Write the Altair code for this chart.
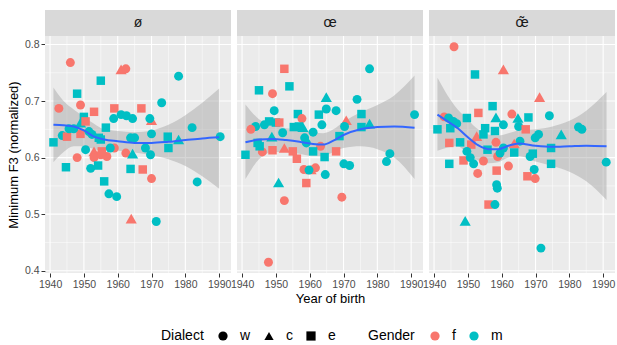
import altair as alt
import pandas as pd

vowels = ["ø", "œ", "œ\u0303"]

# ---- panel 1 (ø) points ----
p1_year = [1946.0, 1961.0, 1962.4, 1955.0, 1978.0, 1948.0, 1942.6, 1949.0, 1953.0, 1959.0,
           1967.0, 1973.0, 1950.0, 1958.8, 1961.0, 1962.6, 1964.4, 1970.0, 1969.5, 1956.5,
           1982.0, 1943.6, 1941.0, 1945.0, 1949.0, 1954.4, 1970.0, 1974.8, 1978.0, 1990.3,
           1963.8, 1965.0, 1945.6, 1947.0, 1949.0, 1950.5, 1951.5, 1952.4, 1955.0, 1950.5,
           1948.0, 1953.0, 1953.0, 1955.0, 1956.8, 1955.3, 1959.0, 1962.4, 1964.4, 1968.2,
           1969.7, 1975.0, 1944.7, 1952.0, 1954.2, 1963.8, 1967.4, 1956.0, 1957.4, 1959.7,
           1964.0, 1971.4, 1970.0, 1983.5, 1957.8]
p1_f3 = [0.768, 0.756, 0.757, 0.736, 0.744, 0.713, 0.687, 0.693, 0.681, 0.687,
         0.687, 0.697, 0.672, 0.669, 0.676, 0.674, 0.669, 0.666, 0.669, 0.653,
         0.653, 0.639, 0.627, 0.637, 0.642, 0.635, 0.642, 0.637, 0.632, 0.637,
         0.635, 0.635, 0.651, 0.651, 0.662, 0.664, 0.646, 0.641, 0.632, 0.614,
         0.600, 0.611, 0.600, 0.605, 0.602, 0.611, 0.617, 0.608, 0.607, 0.617,
         0.605, 0.617, 0.583, 0.581, 0.586, 0.580, 0.579, 0.558, 0.536, 0.531,
         0.492, 0.487, 0.563, 0.557, 0.617]
p1_dialect = ["w", "c", "w", "e", "w", "e", "w", "w", "e", "e",
              "e", "w", "e", "w", "w", "w", "w", "c", "w", "e",
              "w", "w", "e", "e", "e", "e", "w", "e", "c", "w",
              "w", "w", "w", "w", "c", "e", "w", "w", "e", "w",
              "w", "c", "w", "w", "w", "e", "w", "w", "c", "w",
              "w", "e", "e", "w", "e", "e", "e", "e", "w", "w",
              "c", "w", "w", "w", "w"]
p1_gender = ["f", "f", "f", "m", "m", "m", "f", "f", "f", "f",
             "f", "m", "m", "m", "m", "m", "m", "f", "m", "m",
             "m", "m", "m", "f", "f", "m", "m", "m", "m", "m",
             "m", "m", "m", "m", "m", "f", "m", "m", "m", "m",
             "f", "f", "f", "f", "f", "f", "f", "f", "m", "m",
             "m", "m", "m", "m", "m", "m", "f", "m", "m", "m",
             "f", "m", "f", "m", "m"]

# ---- panel 2 (œ) points ----
p2_year = [1952.5, 1977.7, 1945.0, 1954.0, 1949.0, 1964.9, 1974.0, 1949.5, 1964.9, 1967.8,
           1956.5, 1962.7, 1975.3, 1991.0, 1957.7, 1970.8, 1977.7, 1944.0, 1946.6, 1948.0,
           1950.0, 1951.0, 1942.6, 1952.0, 1955.3, 1956.8, 1958.0, 1961.0, 1963.6, 1970.3,
           1975.3, 1948.8, 1944.6, 1958.5, 1959.0, 1968.8, 1963.2, 1941.0, 1946.0, 1949.0,
           1952.5, 1955.0, 1956.2, 1961.0, 1964.4, 1967.8, 1958.3, 1960.4, 1961.7, 1959.8,
           1964.6, 1959.0, 1950.8, 1952.5, 1969.5, 1947.8, 1970.1, 1971.8, 1982.7, 1983.7,
           1945.2]
p2_f3 = [0.757, 0.757, 0.719, 0.726, 0.713, 0.707, 0.703, 0.683, 0.686, 0.683,
         0.677, 0.676, 0.677, 0.676, 0.669, 0.666, 0.660, 0.655, 0.658, 0.664,
         0.662, 0.662, 0.650, 0.644, 0.654, 0.655, 0.654, 0.645, 0.658, 0.655,
         0.654, 0.637, 0.626, 0.635, 0.626, 0.638, 0.620, 0.605, 0.610, 0.613,
         0.617, 0.611, 0.598, 0.611, 0.601, 0.611, 0.579, 0.579, 0.582, 0.578,
         0.570, 0.555, 0.556, 0.524, 0.530, 0.415, 0.589, 0.586, 0.593, 0.607,
         0.620]
p2_dialect = ["e", "w", "e", "e", "w", "c", "w", "w", "w", "w",
              "e", "e", "e", "w", "w", "c", "c", "w", "w", "e",
              "e", "e", "w", "w", "e", "e", "c", "w", "w", "w",
              "e", "c", "e", "w", "w", "e", "w", "e", "w", "e",
              "c", "e", "e", "e", "e", "e", "w", "c", "w", "w",
              "w", "e", "c", "w", "w", "w", "w", "w", "w", "w",
              "e"]
p2_gender = ["f", "m", "m", "m", "f", "m", "m", "m", "m", "m",
             "m", "m", "m", "m", "f", "f", "m", "m", "m", "m",
             "m", "f", "f", "m", "m", "m", "m", "m", "m", "m",
             "m", "m", "m", "m", "m", "m", "f", "m", "f", "f",
             "f", "f", "f", "m", "m", "f", "f", "f", "f", "m",
             "m", "f", "m", "f", "f", "f", "m", "m", "m", "m",
             "m"]

# ---- panel 3 (œ̃) points ----
p3_year = [1945.9, 1952.1, 1960.5, 1971.2, 1957.3, 1953.1, 1949.7, 1958.3, 1963.0, 1964.8,
           1967.9, 1974.1, 1943.0, 1944.3, 1945.7, 1946.7, 1960.5, 1965.0, 1941.0, 1944.8,
           1955.1, 1967.1, 1969.9, 1970.9, 1977.6, 1982.7, 1983.7, 1944.5, 1947.7, 1951.0,
           1952.6, 1954.6, 1958.3, 1965.4, 1963.7, 1944.5, 1948.7, 1949.7, 1950.7, 1951.7,
           1952.9, 1954.6, 1955.8, 1958.8, 1959.5, 1960.5, 1958.5, 1962.0, 1963.7, 1958.5,
           1958.7, 1956.1, 1958.0, 1949.2, 1971.6, 1968.4, 1969.2, 1969.6, 1967.6, 1969.9,
           1974.6, 1974.6, 1990.9, 1958.0]
p3_f3 = [0.796, 0.747, 0.756, 0.707, 0.691, 0.679, 0.670, 0.671, 0.677, 0.670,
         0.671, 0.674, 0.672, 0.670, 0.664, 0.660, 0.658, 0.655, 0.650, 0.652,
         0.652, 0.650, 0.635, 0.641, 0.641, 0.654, 0.650, 0.626, 0.627, 0.623,
         0.638, 0.641, 0.627, 0.629, 0.625, 0.589, 0.595, 0.611, 0.600, 0.589,
         0.572, 0.594, 0.614, 0.602, 0.608, 0.617, 0.577, 0.585, 0.609, 0.552,
         0.546, 0.517, 0.517, 0.488, 0.440, 0.602, 0.607, 0.579, 0.567, 0.563,
         0.617, 0.589, 0.592, 0.647]
p3_dialect = ["w", "e", "c", "c", "e", "e", "e", "c", "w", "c",
              "e", "w", "w", "w", "w", "w", "w", "w", "e", "e",
              "e", "e", "w", "w", "c", "w", "w", "e", "e", "e",
              "c", "e", "w", "w", "c", "e", "e", "w", "w", "w",
              "w", "w", "e", "w", "w", "w", "e", "w", "e", "w",
              "w", "e", "w", "c", "w", "w", "e", "w", "e", "w",
              "e", "e", "w", "e"]
p3_gender = ["f", "m", "f", "f", "m", "f", "m", "m", "f", "m",
             "m", "m", "f", "m", "m", "m", "m", "m", "m", "m",
             "m", "f", "m", "m", "m", "m", "m", "f", "m", "f",
             "f", "m", "f", "m", "f", "m", "f", "m", "m", "m",
             "f", "f", "m", "f", "m", "m", "f", "f", "m", "m",
             "m", "f", "m", "m", "m", "m", "m", "m", "f", "f",
             "m", "m", "m", "m"]

# ---- smoother (loess fit and 95% band) ----
fit1_year = [1941, 1944, 1947, 1950, 1953, 1956, 1960, 1965, 1970, 1975, 1980, 1985, 1990]
fit1 = [0.658, 0.657, 0.655, 0.648, 0.637, 0.632, 0.629, 0.626, 0.626, 0.628, 0.631, 0.634, 0.636]
lo1 = [0.592, 0.610, 0.620, 0.620, 0.615, 0.612, 0.612, 0.609, 0.604, 0.597, 0.585, 0.567, 0.545]
hi1 = [0.724, 0.700, 0.685, 0.672, 0.660, 0.650, 0.647, 0.645, 0.648, 0.658, 0.675, 0.697, 0.722]

fit2_year = [1941, 1945, 1949, 1953, 1957, 1961, 1964, 1967, 1970, 1975, 1980, 1985, 1991]
fit2 = [0.627, 0.632, 0.633, 0.631, 0.628, 0.624, 0.623, 0.630, 0.640, 0.650, 0.654, 0.655, 0.653]
lo2 = [0.562, 0.597, 0.610, 0.610, 0.607, 0.603, 0.603, 0.610, 0.617, 0.620, 0.615, 0.600, 0.562]
hi2 = [0.694, 0.668, 0.657, 0.652, 0.650, 0.645, 0.643, 0.650, 0.663, 0.680, 0.693, 0.710, 0.745]

fit3_year = [1941, 1944, 1947, 1950, 1953, 1956, 1959, 1962, 1965, 1970, 1975, 1980, 1985, 1991]
fit3 = [0.676, 0.664, 0.652, 0.636, 0.622, 0.615, 0.615, 0.621, 0.625, 0.621, 0.619, 0.620, 0.621, 0.620]
lo3 = [0.612, 0.618, 0.620, 0.606, 0.595, 0.590, 0.592, 0.600, 0.603, 0.593, 0.585, 0.575, 0.558, 0.525]
hi3 = [0.741, 0.710, 0.685, 0.667, 0.650, 0.641, 0.639, 0.643, 0.648, 0.650, 0.655, 0.665, 0.683, 0.716]

# ---- axes / grid ----
major_years = [1940, 1950, 1960, 1970, 1980, 1990]
minor_years = [1945, 1955, 1965, 1975, 1985]
major_f3 = [0.4, 0.5, 0.6, 0.7, 0.8]
minor_f3 = [0.45, 0.55, 0.65, 0.75]

dialects = ["w", "c", "e"]
dialect_shapes = ["circle", "triangle-up", "square"]
genders = ["f", "m"]
gender_colors = ["#F8766D", "#00BFC4"]

FONT = "Liberation Sans"
W, H, SH = 186, 237, 26
SIZE_EXPR = "datum.dialect == 'c' ? 125 : (datum.dialect == 'e' ? 72 : 80)"

x_scale = alt.Scale(domain=[1938.5, 1993.5], nice=False, zero=False)
y_scale = alt.Scale(domain=[0.396, 0.815], nice=False, zero=False)


def x_enc(field, show_title):
    kw = dict(values=major_years, format="d", grid=False, domain=False,
              tickColor="#333333", tickSize=4, tickWidth=1,
              labelColor="#4D4D4D", labelFontSize=10.5, labelPadding=2,
              labelFlush=False, labelOverlap=False,
              titleFontSize=13, titleFontWeight="normal", titleColor="#000000",
              titlePadding=3)
    if show_title:
        kw["title"] = "Year of birth"
    else:
        kw["title"] = None
    return alt.X(field, type="quantitative", scale=x_scale, axis=alt.Axis(**kw))


def y_enc(field, show_axis):
    if show_axis:
        ax = alt.Axis(values=major_f3, format=".1f", grid=False, domain=False,
                      tickColor="#333333", tickSize=4, tickWidth=1,
                      labelColor="#4D4D4D", labelFontSize=10.5, labelPadding=2,
                      labelOverlap=False, title="Minimum F3 (normalized)",
                      titleFontSize=13, titleFontWeight="normal", titleColor="#000000",
                      titlePadding=4)
        return alt.Y(field, type="quantitative", scale=y_scale, axis=ax)
    return alt.Y(field, type="quantitative", scale=y_scale, axis=None)


shape_legend = alt.Legend(title="Dialect", orient="none", legendX=116, legendY=319,
                          direction="horizontal", titleOrient="left", titlePadding=12,
                          titleFontSize=14, titleFontWeight="normal", titleColor="#000000",
                          labelFontSize=14, labelColor="#000000", labelOffset=10,
                          columnPadding=11, symbolSize=85, symbolFillColor="black",
                          symbolStrokeColor="black", symbolStrokeWidth=0)
color_legend = alt.Legend(title="Gender", orient="none", legendX=323, legendY=319,
                          direction="horizontal", titleOrient="left", titlePadding=13,
                          titleFontSize=14, titleFontWeight="normal", titleColor="#000000",
                          labelFontSize=14, labelColor="#000000", labelOffset=10,
                          columnPadding=11, symbolSize=85, symbolType="circle",
                          symbolStrokeWidth=0)


def panel(df_pts, df_fit, show_y, show_xtitle):
    gx_major = alt.Chart(pd.DataFrame({"year": major_years})).mark_rule(
        color="white", strokeWidth=1.1).encode(x=x_enc("year", show_xtitle))
    gx_minor = alt.Chart(pd.DataFrame({"year": minor_years})).mark_rule(
        color="white", strokeWidth=0.5).encode(x=x_enc("year", show_xtitle))
    gy_major = alt.Chart(pd.DataFrame({"f3": major_f3})).mark_rule(
        color="white", strokeWidth=1.1).encode(y=y_enc("f3", show_y))
    gy_minor = alt.Chart(pd.DataFrame({"f3": minor_f3})).mark_rule(
        color="white", strokeWidth=0.5).encode(y=y_enc("f3", show_y))
    band = alt.Chart(df_fit).mark_area(color="#999999", opacity=0.4,
                                       interpolate="monotone").encode(
        x=x_enc("year", show_xtitle), y=y_enc("lo", show_y), y2="hi")
    pts = alt.Chart(df_pts).transform_calculate(msize=SIZE_EXPR).mark_point(
        filled=True, opacity=1, strokeWidth=0).encode(
        x=x_enc("year", show_xtitle), y=y_enc("f3", show_y),
        color=alt.Color("gender:N", scale=alt.Scale(domain=genders, range=gender_colors),
                        legend=color_legend),
        shape=alt.Shape("dialect:N", scale=alt.Scale(domain=dialects, range=dialect_shapes),
                        legend=shape_legend),
        size=alt.Size("msize:Q", scale=None, legend=None))
    line = alt.Chart(df_fit).mark_line(color="#3366FF", strokeWidth=2,
                                       interpolate="monotone").encode(
        x=x_enc("year", show_xtitle), y=y_enc("f3", show_y))
    return alt.layer(gx_minor, gy_minor, gx_major, gy_major, band, pts, line).properties(
        width=W, height=H)


def strip(label):
    d = pd.DataFrame({"vowel": [label]})
    xs = alt.X("vowel:N", axis=None, scale=alt.Scale(paddingInner=0, paddingOuter=0))
    rect = alt.Chart(d).mark_rect(color="#D9D9D9").encode(x=xs)
    txt = alt.Chart(d).mark_text(fontSize=14, color="#1A1A1A", font=FONT).encode(
        x=xs, text="vowel:N")
    return alt.layer(rect, txt).properties(width=W, height=SH)


pts_frames = [
    pd.DataFrame({"year": p1_year, "f3": p1_f3, "dialect": p1_dialect, "gender": p1_gender}),
    pd.DataFrame({"year": p2_year, "f3": p2_f3, "dialect": p2_dialect, "gender": p2_gender}),
    pd.DataFrame({"year": p3_year, "f3": p3_f3, "dialect": p3_dialect, "gender": p3_gender}),
]
fit_frames = [
    pd.DataFrame({"year": fit1_year, "f3": fit1, "lo": lo1, "hi": hi1}),
    pd.DataFrame({"year": fit2_year, "f3": fit2, "lo": lo2, "hi": hi2}),
    pd.DataFrame({"year": fit3_year, "f3": fit3, "lo": lo3, "hi": hi3}),
]

strips = [strip(v) for v in vowels]
plots = [panel(pts_frames[i], fit_frames[i], i == 0, i == 1) for i in range(3)]

chart = alt.concat(*strips, *plots, columns=3, spacing={"row": 0, "column": 6},
                   bounds="flush").properties(
    padding={"left": 7, "top": 10, "right": 0, "bottom": 0}
).configure(font=FONT).configure_view(stroke=None, fill="#EBEBEB")

chart.save("out.html", embed_options={"renderer": "svg", "actions": False})
